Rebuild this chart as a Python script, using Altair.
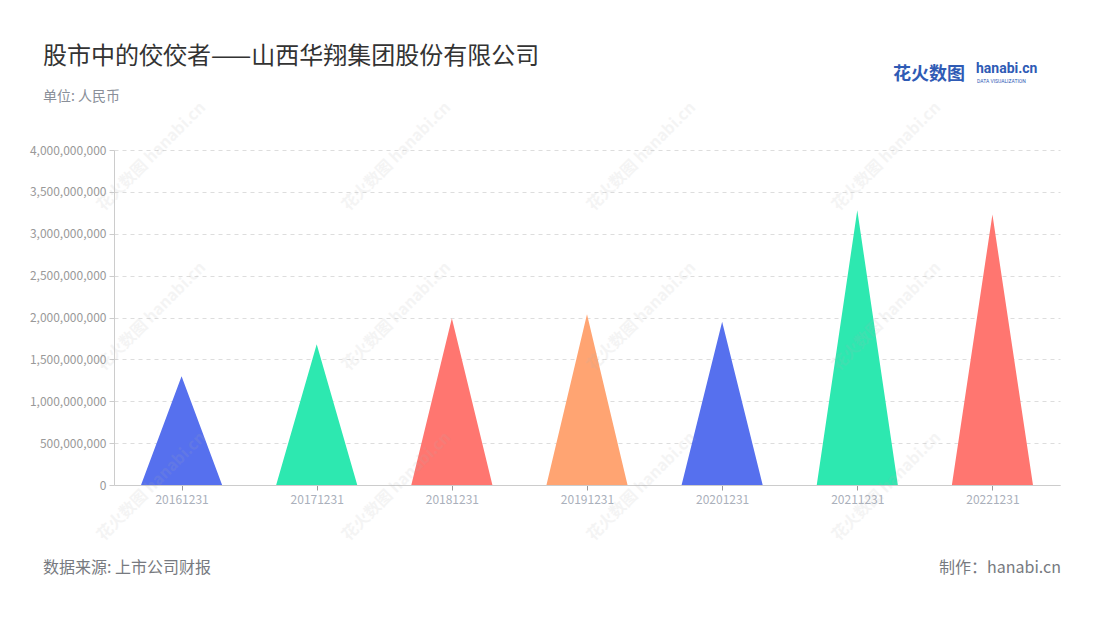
import altair as alt
import pandas as pd

categories = ["20161231", "20171231", "20181231", "20191231", "20201231", "20211231", "20221231"]
values = [1300000000, 1680000000, 1990000000, 2040000000, 1950000000, 3280000000, 3230000000]
bar_colors = ["#5670EE", "#2DE8B0", "#FF7670", "#FFA472", "#5670EE", "#2DE8B0", "#FF7670"]
y_ticks = [0, 500000000, 1000000000, 1500000000, 2000000000, 2500000000, 3000000000, 3500000000, 4000000000]

FONT = "Noto Sans CJK SC"
HALF = 0.3  # half base width of each triangle, in category units

rows = []
for i, (c, v) in enumerate(zip(categories, values)):
    rows.append({"cat": c, "x": i - HALF, "y": 0, "o": 0})
    rows.append({"cat": c, "x": i, "y": v, "o": 1})
    rows.append({"cat": c, "x": i + HALF, "y": 0, "o": 2})
df = pd.DataFrame(rows)

label_expr = "[" + ",".join("'%s'" % c for c in categories) + "][datum.value]"

W, H = 946, 335

tri = alt.Chart(df).mark_area(opacity=1, line=False).encode(
    x=alt.X("x:Q",
            scale=alt.Scale(domain=[-0.5, len(categories) - 0.5], nice=False, zero=False),
            axis=alt.Axis(values=list(range(len(categories))), labelExpr=label_expr, title=None,
                          grid=False, domainColor="#cccccc", tickColor="#999999", tickSize=5,
                          labelColor="#aab0bb", labelFontSize=12, labelFont=FONT, labelPadding=4)),
    y=alt.Y("y:Q",
            scale=alt.Scale(domain=[0, 4000000000], nice=False),
            axis=alt.Axis(values=y_ticks, format=",d", title=None, grid=True, gridDash=[4, 4],
                          gridColor="#dddddd", domainColor="#cccccc", tickColor="#cccccc", tickSize=5,
                          labelColor="#999999", labelFontSize=12, labelFont=FONT, labelPadding=3)),
    color=alt.Color("cat:N", scale=alt.Scale(domain=categories, range=bar_colors), legend=None),
    detail="cat:N",
    order="o:Q",
)

def txt(text, x, y, size, color, align="left", weight="normal", angle=0, opacity=1.0, font=FONT):
    return alt.Chart(pd.DataFrame({"t": [text]})).mark_text(
        align=align, baseline="alphabetic", fontSize=size, color=color, font=font,
        fontWeight=weight, angle=angle, opacity=opacity
    ).encode(text="t:N", x=alt.value(x), y=alt.value(y))

# plot origin is at page (114, 150)
ox, oy = 114, 150
layers = [tri]

# watermarks
wm_pos = [(155, 160), (400, 160), (645, 160), (890, 160),
          (155, 320), (400, 320), (645, 320), (890, 320),
          (155, 490), (400, 490), (645, 490), (890, 490)]
for (px, py) in wm_pos:
    layers.append(txt("花火数图 hanabi.cn", px - ox, py - oy, 16, "#b0b0b0",
                      align="center", weight="bold", angle=315, opacity=0.13))

layers += [
    txt("股市中的佼佼者——山西华翔集团股份有限公司", 43 - ox, 64 - oy, 24, "#333333"),
    txt("单位: 人民币", 43 - ox, 101 - oy, 14, "#8a8f99"),
    txt("数据来源: 上市公司财报", 43 - ox, 573 - oy, 16, "#777a80"),
    txt("制作：hanabi.cn", 1061 - ox, 573 - oy, 16, "#777a80", align="right"),
    txt("花火数图", 893 - ox, 80 - oy, 18, "#2F5BB5", weight="bold"),
    txt("hanabi.cn", 976 - ox, 73 - oy, 14, "#2F5BB5", weight="bold", font="Roboto"),
    txt("DATA VISUALIZATION", 977 - ox, 83 - oy, 5, "#2F5BB5", font="Roboto"),
]

chart = alt.layer(*layers).properties(
    width=W, height=H,
    autosize=alt.AutoSizeParams(type="none"),
    padding={"left": ox - 8, "top": oy - 8, "right": 30, "bottom": 110},
    background="white",
).configure_view(stroke=None)

chart.save("out.html", embed_options={"renderer": "svg", "actions": False})
